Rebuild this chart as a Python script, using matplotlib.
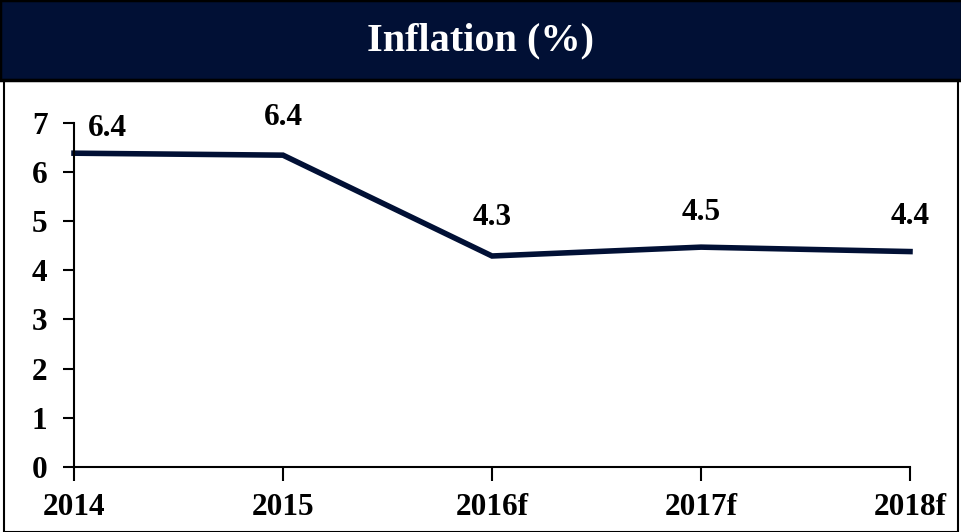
import matplotlib.pyplot as plt
from matplotlib.patches import Rectangle

years = ["2014", "2015", "2016f", "2017f", "2018f"]
inflation = [6.38, 6.34, 4.29, 4.47, 4.38]
labels = ["6.4", "6.4", "4.3", "4.5", "4.4"]
# label offsets in points (x, y) from each point
offsets = [(24, 18), (0, 27), (0, 28), (0, 25), (0, 25)]

navy = "#011035"
W, H = 962, 532

plt.rcParams['font.family'] = ['Liberation Serif', 'DejaVu Serif']
plt.rcParams['font.weight'] = 'bold'

fig = plt.figure(figsize=(W / 100, H / 100), dpi=100)

# title bar
fig.patches.append(Rectangle((0, 1 - 80 / H), 1, 80 / H, transform=fig.transFigure,
                             facecolor=navy, edgecolor="black", linewidth=2.5, zorder=0))
fig.patches.append(Rectangle((4 / W, 0), (W - 8) / W, 1 - 80 / H, transform=fig.transFigure,
                             facecolor="none", edgecolor="black", linewidth=1.5, zorder=0))
fig.text(0.5, 1 - 41 / H, "Inflation (%)", color="white", fontsize=29,
         fontweight="bold", ha="center", va="center")

ax = fig.add_axes([74 / W, 1 - 467 / H, (910 - 74) / W, (467 - 122.7) / H])
x = list(range(len(years)))
ax.plot(x, inflation, color=navy, linewidth=4, solid_joinstyle="miter", clip_on=False)

for i in x:
    ax.annotate(labels[i], (x[i], inflation[i]), xytext=offsets[i],
                textcoords="offset points", ha="center", va="center",
                fontsize=22.5, fontweight="bold", color="black")

ax.set_xlim(0, 4)
ax.set_ylim(0, 7)
ax.set_xticks(x)
ax.set_xticklabels(years)
ax.set_yticks(range(8))
for s in ["top", "right"]:
    ax.spines[s].set_visible(False)
for s in ["left", "bottom"]:
    ax.spines[s].set_linewidth(1.5)
    ax.spines[s].set_color("black")
ax.tick_params(axis="both", direction="out", length=8, width=1.5,
               labelsize=22.5, pad=11, colors="black")
ax.tick_params(axis="x", length=10, pad=9)

fig.savefig("out.png", dpi=100)
